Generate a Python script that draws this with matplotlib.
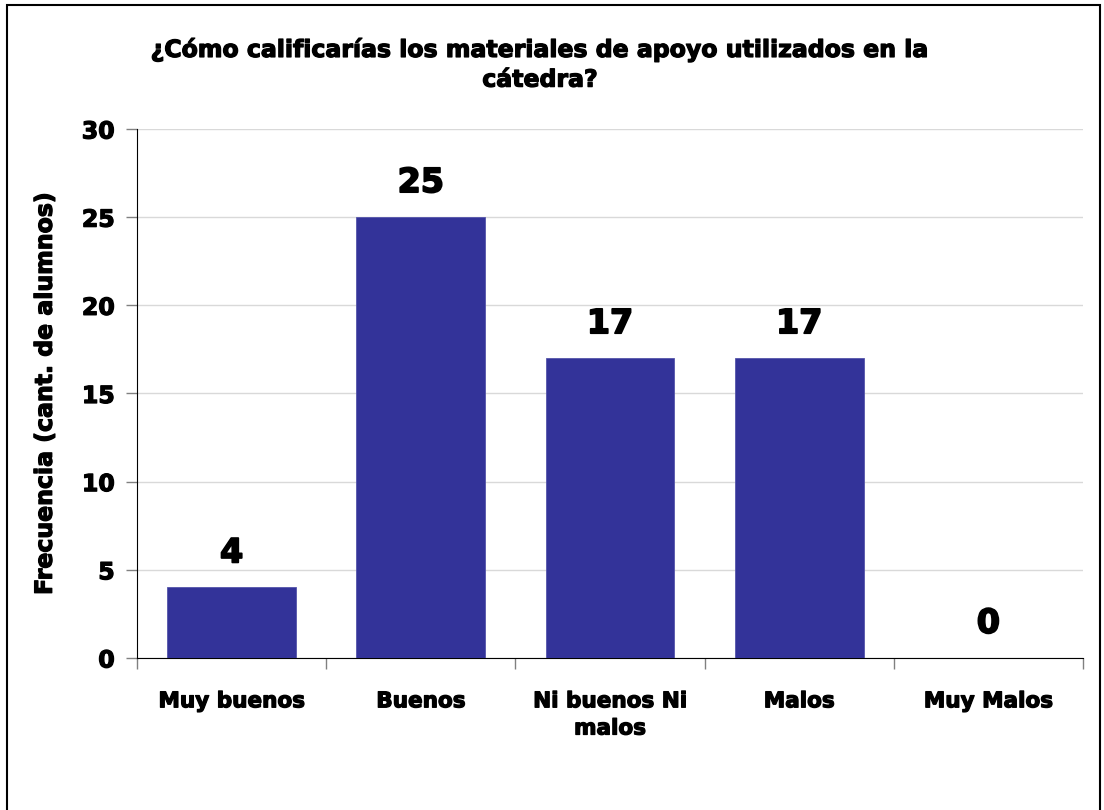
import matplotlib
matplotlib.use("Agg")
import matplotlib.pyplot as plt
from matplotlib.patches import Rectangle
import matplotlib.patheffects as pe

categories = ["Muy buenos", "Buenos", "Ni buenos Ni\nmalos", "Malos", "Muy Malos"]
values = [4, 25, 17, 17, 0]
yticks = [0, 5, 10, 15, 20, 25, 30]
title = "¿Cómo calificarías los materiales de apoyo utilizados en la\ncátedra?"
ylabel = "Frecuencia (cant. de alumnos)"

plt.rcParams['font.family'] = ['DejaVu Sans']
plt.rcParams['font.weight'] = 'bold'

heavy = [pe.withStroke(linewidth=0.9, foreground='black')]

fig = plt.figure(figsize=(11.04, 8.10), dpi=100)
ax = fig.add_axes([0.1241, 0.1877, 0.981 - 0.1241, 0.8407 - 0.1877])

x = list(range(len(categories)))
bars = ax.bar(x, values, width=0.68, color="#333399", edgecolor="#5555aa", linewidth=0.6, zorder=3)
ax.set_xlim(-0.5, len(categories) - 0.5)
ax.set_ylim(0, 30)
ax.set_yticks(yticks)
ax.set_yticklabels([str(t) for t in yticks], fontsize=17, fontweight='bold')
ax.yaxis.grid(True, color="#d9d9d9", linewidth=1, zorder=0)
ax.set_axisbelow(True)

ax.set_xticks(x)
ax.set_xticklabels(categories, fontsize=15.5, fontweight='bold', linespacing=1.45)
ax.tick_params(axis='x', length=0, pad=24)
ax.set_xticks([i - 0.5 for i in range(len(categories) + 1)], minor=True)
ax.tick_params(axis='x', which='minor', length=8, color="#808080", width=1)
ax.tick_params(axis='y', length=8, color="#808080", width=1, pad=8)
for lab in ax.get_xticklabels() + ax.get_yticklabels():
    lab.set_path_effects(heavy)

for s in ['top', 'right']:
    ax.spines[s].set_visible(False)
ax.spines['left'].set_color('black')
ax.spines['bottom'].set_color('black')

for xi, v in zip(x, values):
    ax.annotate(str(v), (xi, v), xytext=(0, 13), textcoords='offset points',
                ha='center', va='bottom', fontsize=24, fontweight='bold',
                path_effects=[pe.withStroke(linewidth=1.3, foreground='black')])

ax.set_ylabel(ylabel, fontsize=17, fontweight='bold', labelpad=18, path_effects=heavy)

fig.text(0.489, 0.955, title, ha='center', va='top', fontsize=17, fontweight='bold',
         linespacing=1.3, path_effects=heavy)

fig.patches.append(Rectangle((0.0065, -0.01), 0.99, 1.0038, transform=fig.transFigure,
                             fill=False, edgecolor='black', linewidth=1.5))

fig.savefig("out.png", dpi=100)
